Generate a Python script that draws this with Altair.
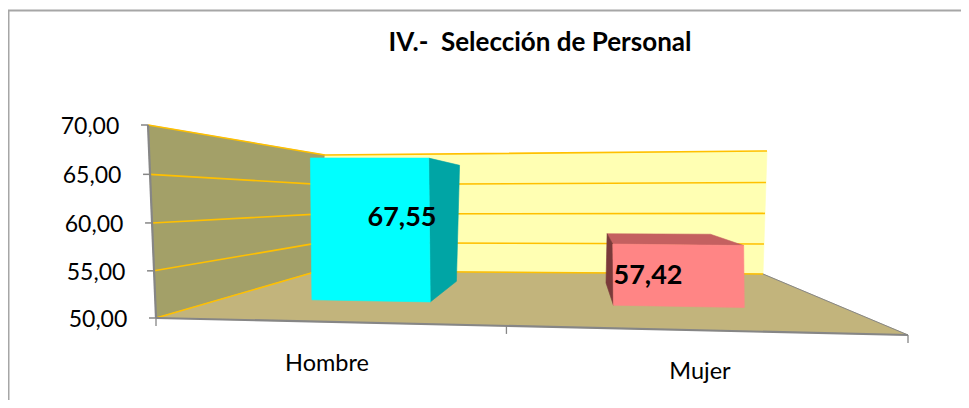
import altair as alt
import pandas as pd

# ---- chart values ----
categories = ["Hombre", "Mujer"]
values = [67.55, 57.42]
value_labels = ["67,55", "57,42"]
ticks = [50, 55, 60, 65, 70]
tick_labels = ["50,00", "55,00", "60,00", "65,00", "70,00"]
title = "IV.-\u00a0 Selección de Personal"

# ---- 3D scene layout: wall corners on screen (u: across, d: depth, v: value) ----
CORNERS = {
    (0, 0, 50): (156, 318), (1, 0, 50): (908, 335),
    (0, 1, 50): (318, 271), (1, 1, 50): (763, 274),
    (0, 0, 70): (148, 125), (1, 0, 70): (902, 127),
    (0, 1, 70): (325, 155), (1, 1, 70): (767, 151),
}
BAR_U_FRONT = [(0.141, 0.331), (0.625, 0.835)]
BAR_U_BACK = [(0.141, 0.335), (0.634, 0.841)]
BAR_D = (0.42, 0.82)
PERSPECTIVE = 0.03


def project(u, d, v):
    """Projection of a scene point on to the picture."""
    t = (v - 50) / 20
    t = t - PERSPECTIVE * t * (1 - t)
    out = [0.0, 0.0]
    for cu, wu in ((0, 1 - u), (1, u)):
        for cd, wd in ((0, 1 - d), (1, d)):
            for cv, wv in ((50, 1 - t), (70, t)):
                p = CORNERS[(cu, cd, cv)]
                out[0] += wu * wd * wv * p[0]
                out[1] += wu * wd * wv * p[1]
    return tuple(out)


X = alt.X("x:Q", scale=alt.Scale(domain=[8, 961], range=[0, 953]), axis=None)
Y = alt.Y("y:Q", scale=alt.Scale(domain=[400, 8], range=[392, 0]), axis=None)


def polyline(points, stroke, width=1.0, fill=None):
    df = pd.DataFrame([{"x": p[0], "y": p[1], "i": i} for i, p in enumerate(points)])
    kw = {"stroke": stroke, "strokeWidth": width, "clip": False}
    if fill:
        kw["fill"] = fill
    return alt.Chart(df).mark_line(**kw).encode(x=X, y=Y, order="i:Q")


def quad(points, fill, stroke=None):
    return polyline(list(points) + [points[0]], stroke or fill, 0.6, fill)


def label(x, y, text, size, weight="normal", align="center"):
    df = pd.DataFrame([{"x": x, "y": y, "t": text}])
    return alt.Chart(df).mark_text(
        font="Lato", fontSize=size, fontWeight=weight, align=align,
        baseline="middle", color="#000000",
    ).encode(x=X, y=Y, text="t:N")


layers = []

# outer frame (left and top only)
layers.append(polyline([(8.5, 400), (8.5, 10.5), (961, 10.5)], "#A6A6A6", 2))

# walls and floor
layers.append(quad([project(0, 0, 50), project(0, 0, 70), project(0, 1, 70), project(0, 1, 50)], "#A3A068"))
layers.append(quad([project(0, 1, 50), project(0, 1, 70), project(1, 1, 70), project(1, 1, 50)], "#FFFFB3"))
layers.append(quad([project(0, 0, 50), project(0, 1, 50), project(1, 1, 50), project(1, 0, 50)], "#C2B47C"))

# gridlines
for t in ticks:
    layers.append(polyline([project(0, 0, t), project(0, 1, t), project(1, 1, t)], "#FFC000", 1.6))

# axes
layers.append(polyline([project(0, 0, 70), project(0, 0, 50)], "#868686", 2.2))
layers.append(polyline([project(0, 0, 50), project(1, 0, 50)], "#868686", 2.2))
layers.append(polyline([project(1, 1, 50), project(1, 0, 50)], "#868686", 1))
for t, s in zip(ticks, tick_labels):
    px, py = project(0, 0, t)
    layers.append(polyline([(px - 7, py), (px, py)], "#868686", 1.5))
    layers.append(label(px - 58, py + 2, s, 23))
for u in (0, 0.466, 1):
    px, py = project(u, 0, 50)
    layers.append(polyline([(px, py), (px, py + 8)], "#868686", 1.3))

# category labels
layers.append(label(327, 364, categories[0], 23.5))
layers.append(label(700, 372, categories[1], 23.5))

# bars
FACE = [("#00FFFF", "#00A5A5"), ("#FF8585", "#7A3A3A")]
TOP = "#C46060"
d0, d1 = BAR_D

# Hombre: right side face and front
(u0, u1), (b0, b1), val = BAR_U_FRONT[0], BAR_U_BACK[0], values[0]
layers.append(quad([project(u1, d0, val), project(b1, d1, val), project(b1, d1, 50), project(u1, d0, 50)], FACE[0][1]))
layers.append(quad([project(u0, d0, 50), project(u0, d0, val), project(u1, d0, val), project(u1, d0, 50)], FACE[0][0]))

# Mujer: top, left side face and front
(u0, u1), (b0, b1), val = BAR_U_FRONT[1], BAR_U_BACK[1], values[1]
layers.append(quad([project(b0, d1, val), project(b1, d1, val), project(u1, d0, val), project(u0, d0, val)], TOP))
layers.append(quad([project(u0, d0, val), project(b0, d1, val), project(b0, d1, 50), project(u0, d0, 50)], FACE[1][1]))
layers.append(quad([project(u0, d0, 50), project(u0, d0, val), project(u1, d0, val), project(u1, d0, 50)], FACE[1][0]))

# value labels and title
layers.append(label(402, 218, value_labels[0], 27, "bold"))
layers.append(label(648, 276, value_labels[1], 27, "bold"))
layers.append(label(540, 43, title, 26, "bold"))

chart = alt.layer(*layers).properties(
    width=953, height=392, padding=0, autosize=alt.AutoSizeParams(type="none"),
    background="#FFFFFF",
).configure_view(stroke=None)

chart.save("out.html", embed_options={"renderer": "svg", "actions": False})
